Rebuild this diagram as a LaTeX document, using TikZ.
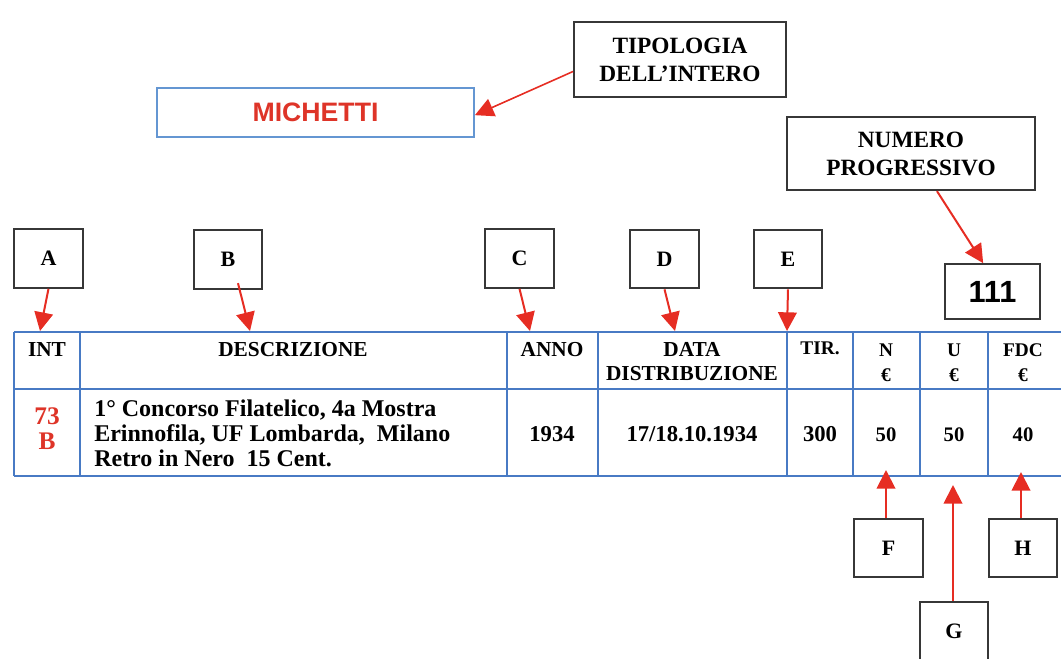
\documentclass[tikz,border=0pt]{standalone}
\usepackage{fontspec}
\setmainfont{Liberation Serif}
\newfontfamily\arialf{Liberation Sans}
\usetikzlibrary{arrows.meta}
\definecolor{tblue}{RGB}{72,122,196}
\definecolor{lblue}{RGB}{100,150,210}
\definecolor{ared}{RGB}{230,45,35}
\definecolor{tred}{RGB}{222,52,40}
\definecolor{bgray}{RGB}{55,55,55}
\begin{document}
\begin{tikzpicture}[x=0.75pt,y=-0.75pt,
  lab/.style={draw=bgray,line width=1.5pt,fill=white,minimum width=51.5pt,minimum height=44pt,inner sep=0pt,font=\fontsize{16.5}{16.5}\selectfont\bfseries},
  bigbox/.style={draw=bgray,line width=1.5pt,fill=white,inner sep=0pt,align=center,font=\fontsize{17.5}{21}\selectfont\bfseries},
  arr/.style={draw=ared,line width=1.5pt,-{Triangle[length=14pt,width=14pt]}},
  tl/.style={line width=2.2pt,draw=tblue},
  hd/.style={anchor=base,inner sep=0pt,font=\fontsize{16}{16}\selectfont\bfseries},
  hs/.style={anchor=base,inner sep=0pt,font=\fontsize{14.5}{14.5}\selectfont\bfseries},
  bd/.style={anchor=base west,inner sep=0pt,font=\fontsize{18}{18}\selectfont\bfseries},
  bv/.style={anchor=base,inner sep=0pt,font=\fontsize{17}{17}\selectfont\bfseries},
  bs/.style={anchor=base,inner sep=0pt,font=\fontsize{15.5}{15.5}\selectfont\bfseries},
  rd/.style={anchor=base,inner sep=0pt,text=tred,font=\fontsize{19}{19}\selectfont\bfseries}
]
\useasboundingbox (0,0) rectangle (1061,658);

% ---------- table ----------
\foreach \yy in {332,389,476} \draw[tl] (14,\yy) -- (1061,\yy);
\foreach \xx in {14,80,507,598,787,853,920,988} \draw[tl] (\xx,332) -- (\xx,476);

% header
\node[hd] (hint) at (47,356) {INT};
\node[hd] (hdesc) at (293,356) {DESCRIZIONE};
\node[hd] (hanno) at (552,356) {ANNO};
\node[hd] (hdata1) at (692,356) {DATA};
\node[hd] (hdata2) at (692,380) {DISTRIBUZIONE};
\node[hs] (htir) at (820,354) {TIR.};
\node[hs] (hn1) at (886,356) {N};
\node[hs] (hn2) at (886,381) {€};
\node[hs] (hu1) at (954,356) {U};
\node[hs] (hu2) at (954,381) {€};
\node[hs] (hf1) at (1023,356) {FDC};
\node[hs] (hf2) at (1023,381) {€};

% body
\node[rd] (n73) at (47,424) {73};
\node[rd] (nB) at (47,449) {B};
\node[bd] (d1) at (94,416) {1° Concorso Filatelico, 4a Mostra};
\node[bd] (d2) at (94,441) {Erinnofila, UF Lombarda,\ \ Milano};
\node[bd] (d3) at (94,466) {Retro in Nero\ \ 15 Cent.};
\node[bv] (vanno) at (552,441) {1934};
\node[bv] (vdata) at (692,441) {17/18.10.1934};
\node[bv] (vtir) at (820,441) {300};
\node[bs] (vn) at (886,441) {50};
\node[bs] (vu) at (954,441) {50};
\node[bs] (vf) at (1023,441) {40};

% arrow targets on the table
\coordinate (tA) at (40,331);
\coordinate (tB) at (250,331);
\coordinate (tC) at (530,331);
\coordinate (tD) at (675,331);
\coordinate (tE) at (787,331);
\coordinate (tF) at (886,470);
\coordinate (tG) at (953,485);
\coordinate (tH) at (1021,472);

% ---------- label boxes ----------
\node[lab] (A) at (48.5,258.5) {A};
\node[lab] (B) at (228,259.5) {B};
\node[lab] (C) at (519.5,258.5) {C};
\node[lab] (D) at (664.5,259) {D};
\node[lab] (E) at (788,259) {E};
\node[lab] (F) at (888.5,548) {F};
\node[lab] (H) at (1023,548) {H};
\node[lab] (G) at (954,631) {G};

\draw[arr] (A.south) -- (tA);
\draw[arr] ([xshift=7.5pt,yshift=5pt]B.south) -- (tB);
\draw[arr] (C.south) -- (tC);
\draw[arr] (D.south) -- (tD);
\draw[arr] (E.south) -- (tE);
\draw[arr] (tF |- F.north) -- (tF);
\draw[arr] (tG |- G.north) -- (tG);
\draw[arr] (tH |- H.north) -- (tH);

% ---------- top ----------
\node[draw=lblue,line width=1.6pt,fill=white,minimum width=237.5pt,minimum height=36.5pt,inner sep=0pt,text=tred,font=\arialf\fontsize{20}{20}\selectfont\bfseries] (mic) at (315.5,112.5) {MICHETTI};
\node[bigbox,minimum width=159pt,minimum height=56pt] (tip) at (680,59.5) {TIPOLOGIA\\DELL’INTERO};
\node[bigbox,minimum width=186pt,minimum height=55pt] (num) at (911,153.5) {NUMERO\\PROGRESSIVO};
\node[draw=bgray,line width=1.5pt,fill=white,minimum width=71pt,minimum height=41pt,inner sep=0pt,font=\arialf\fontsize{23}{23}\selectfont\bfseries] (n111) at (992.5,291.5) {111};

\draw[arr,line width=1.2pt] ([yshift=-9pt]tip.west) -- ([yshift=-2pt]mic.east);
\draw[arr] ([xshift=19.5pt]num.south) -- ([xshift=-7pt]n111.north);
\end{tikzpicture}
\end{document}
